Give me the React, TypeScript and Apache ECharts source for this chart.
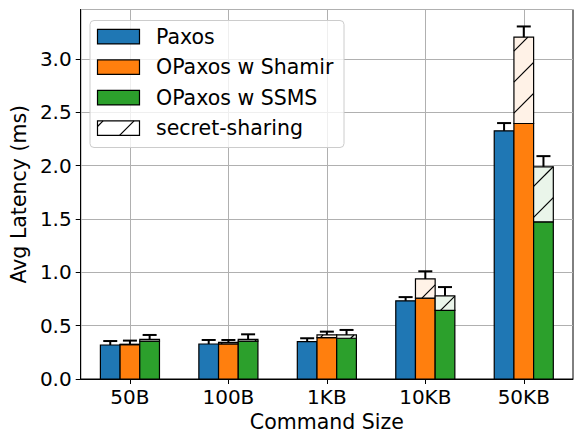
import React, { useEffect, useRef } from 'react';
import * as echarts from 'echarts';

const categories = ['50B', '100B', '1KB', '10KB', '50KB'];
const seriesNames = ['Paxos', 'OPaxos w Shamir', 'OPaxos w SSMS'];
const legendHatchName = 'secret-sharing';

const paxosBase = [0.319, 0.328, 0.35, 0.733, 2.327];
const paxosShare = [0, 0, 0, 0, 0];
const paxosErr = [0.037, 0.038, 0.032, 0.035, 0.073];

const shamirBase = [0.322, 0.33, 0.388, 0.759, 2.396];
const shamirShare = [0.004, 0.014, 0.025, 0.179, 0.81];
const shamirErr = [0.034, 0.022, 0.031, 0.072, 0.1];

const ssmsBase = [0.356, 0.356, 0.382, 0.643, 1.474];
const ssmsShare = [0.016, 0.016, 0.031, 0.137, 0.516];
const ssmsErr = [0.041, 0.047, 0.047, 0.082, 0.1];

const yAxisMax = 3.465;
const yInterval = 0.5;

const COLORS = ['#1f77b4', '#ff7f0e', '#2ca02c'];
const TINTS = ['#e9f1f7', '#fff2e7', '#eaf5ea'];
const FONT = 'DejaVu Sans';
const HATCH = 31;
const HATCH_OFF = 7;

function hatchLines(xa: number, ya: number, xb: number, yb: number, lw: number, z?: number) {
  const out: any[] = [];
  const cMin = xa + ya;
  const cMax = xb + yb;
  let c = Math.ceil((cMin - HATCH_OFF) / HATCH) * HATCH + HATCH_OFF;
  for (; c <= cMax; c += HATCH) {
    const x1 = Math.max(xa, c - yb);
    const x2 = Math.min(xb, c - ya);
    if (x2 - x1 > 0.5) {
      const el: any = {
        type: 'line',
        shape: { x1, y1: c - x1, x2, y2: c - x2 },
        style: { stroke: '#000', lineWidth: lw },
      };
      if (z !== undefined) el.z = z;
      out.push(el);
    }
  }
  return out;
}

export default function App() {
  const ref = useRef<HTMLDivElement>(null);
  useEffect(() => {
    if (!ref.current) return;
    const chart = echarts.init(ref.current, undefined, { renderer: 'svg' });
    const bases = [paxosBase, shamirBase, ssmsBase];
    const shares = [paxosShare, shamirShare, ssmsShare];
    const errs = [paxosErr, shamirErr, ssmsErr];

    const series = seriesNames.map((name, s) => ({
      type: 'custom',
      name,
      z: 3,
      data: categories.map((_, i) => [i, bases[s][i], shares[s][i], errs[s][i]]),
      encode: { x: 0, y: [1] },
      renderItem: (params: any, api: any) => {
        const ci = api.value(0);
        const base = api.value(1);
        const share = api.value(2);
        const err = api.value(3);
        const band = api.size([1, 0])[0];
        const bw = band * 0.2;
        const p0 = api.coord([ci, 0]);
        const cx = p0[0];
        const y0 = p0[1];
        const xa = cx + (s - 1.5) * bw;
        const xb = xa + bw;
        const yB = api.coord([ci, base])[1];
        const yT = api.coord([ci, base + share])[1];
        const yE = api.coord([ci, base + share + err])[1];
        const xm = (xa + xb) / 2;
        const children: any[] = [
          {
            type: 'rect',
            shape: { x: xa, y: yB, width: bw, height: y0 - yB },
            style: { fill: COLORS[s], stroke: '#000', lineWidth: 1.2 },
          },
        ];
        if (share > 0) {
          children.push({
            type: 'rect',
            shape: { x: xa, y: yT, width: bw, height: yB - yT },
            style: { fill: TINTS[s], stroke: null },
          });
          hatchLines(xa, yT, xb, yB, 1.2).forEach((l) => children.push(l));
          children.push({
            type: 'rect',
            shape: { x: xa, y: yT, width: bw, height: yB - yT },
            style: { fill: null, stroke: '#000', lineWidth: 1.2 },
          });
        }
        children.push({
          type: 'line',
          shape: { x1: xm, y1: yT, x2: xm, y2: yE },
          style: { stroke: '#000', lineWidth: 2 },
        });
        children.push({
          type: 'line',
          shape: { x1: xm - 7, y1: yE, x2: xm + 7, y2: yE },
          style: { stroke: '#000', lineWidth: 2 },
        });
        return { type: 'group', children };
      },
    }));

    // Legend drawn with graphic
    const LZ = 100;
    const lx = 90, ly = 20.5, lw = 254, lh = 127;
    const legendChildren: any[] = [
      {
        type: 'rect',
        z: LZ,
        shape: { x: lx, y: ly, width: lw, height: lh, r: 4 },
        style: { fill: 'rgba(255,255,255,0.8)', stroke: '#cccccc', lineWidth: 1 },
      },
    ];
    const entries = [...seriesNames, legendHatchName];
    entries.forEach((name, i) => {
      const cy = 36.7 + 30.5 * i;
      const px = 97.5, pw = 42, ph = 14.5;
      const py = cy - ph / 2;
      if (i < 3) {
        legendChildren.push({
          type: 'rect',
          z: LZ + 1,
          shape: { x: px, y: py, width: pw, height: ph },
          style: { fill: COLORS[i], stroke: '#000', lineWidth: 1.2 },
        });
      } else {
        legendChildren.push({
          type: 'rect',
          z: LZ + 1,
          shape: { x: px, y: py, width: pw, height: ph },
          style: { fill: '#fff', stroke: null },
        });
        hatchLines(px, py, px + pw, py + ph, 1.2, LZ + 2).forEach((l) => legendChildren.push(l));
        legendChildren.push({
          type: 'rect',
          z: LZ + 3,
          shape: { x: px, y: py, width: pw, height: ph },
          style: { fill: null, stroke: '#000', lineWidth: 1.2 },
        });
      }
      legendChildren.push({
        type: 'text',
        z: LZ + 1,
        x: 156,
        y: cy,
        style: {
          text: name,
          fill: '#000',
          font: `20.5px "${FONT}"`,
          textVerticalAlign: 'middle',
          verticalAlign: 'middle',
        },
      });
    });

    chart.setOption({
      animation: false,
      textStyle: { fontFamily: FONT },
      grid: {
        left: 78,
        right: 11,
        top: 9.5,
        bottom: 65,
        show: true,
        borderColor: '#000',
        borderWidth: 1,
        backgroundColor: 'transparent',
      },
      xAxis: {
        type: 'category',
        data: categories,
        boundaryGap: true,
        name: 'Command Size',
        nameLocation: 'middle',
        nameGap: 32,
        nameTextStyle: { fontSize: 20.5, color: '#000', fontFamily: FONT },
        axisLine: { lineStyle: { color: '#000', width: 1 } },
        axisTick: { show: true, alignWithLabel: true, length: 5, lineStyle: { color: '#000', width: 1 } },
        axisLabel: { fontSize: 20, color: '#000', margin: 8, fontFamily: FONT },
        splitLine: { show: true, alignWithLabel: true, lineStyle: { color: '#b0b0b0', width: 1 } },
      },
      yAxis: {
        type: 'value',
        min: 0,
        max: yAxisMax,
        interval: yInterval,
        name: 'Avg Latency (ms)',
        nameLocation: 'middle',
        nameGap: 46,
        nameTextStyle: { fontSize: 20.5, color: '#000', fontFamily: FONT },
        axisLine: { show: true, lineStyle: { color: '#000', width: 1 } },
        axisTick: { show: true, length: 5, lineStyle: { color: '#000', width: 1 } },
        axisLabel: {
          fontSize: 20,
          color: '#000',
          margin: 9,
          fontFamily: FONT,
          showMaxLabel: false,
          formatter: (v: number) =>
            Math.abs(v / yInterval - Math.round(v / yInterval)) < 1e-6 ? v.toFixed(1) : '',
        },
        splitLine: { show: true, lineStyle: { color: '#b0b0b0', width: 1 } },
      },
      series,
      graphic: [{ type: 'group', z: LZ, children: legendChildren }],
    });
    return () => chart.dispose();
  }, []);
  return (
    <div
      ref={ref}
      style={{ position: 'fixed', left: 0, top: 0, width: 584, height: 444, background: '#fff' }}
    />
  );
}
